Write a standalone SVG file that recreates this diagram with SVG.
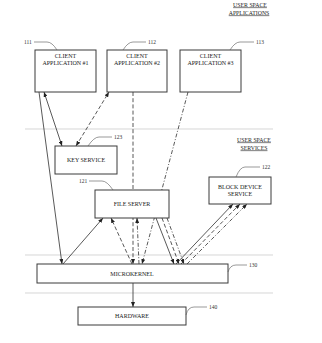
<svg xmlns="http://www.w3.org/2000/svg" width="322" height="343" viewBox="0 0 322 343">
<style>
.bg{fill:#fff}
.sep{stroke:#c4c4c4;stroke-width:0.7;fill:none}
.box{fill:#fff;stroke:#3a3a3a;stroke-width:1}
.t{font-family:"Liberation Serif","Times New Roman",serif;font-size:6px;fill:#222;text-anchor:middle}
.n{font-family:"Liberation Serif","Times New Roman",serif;font-size:5.5px;fill:#333}
.h{font-family:"Liberation Serif","Times New Roman",serif;font-size:5.8px;fill:#222;text-anchor:middle;text-decoration:underline}
.ld{stroke:#555;stroke-width:0.6;fill:none}
.c{stroke:#2e2e2e;stroke-width:0.8;fill:none}
.d{stroke-dasharray:4 2.2}
.dd{stroke-dasharray:4 1.8 1 1.8}
</style>
<defs>
<marker id="ah" markerUnits="userSpaceOnUse" markerWidth="5" markerHeight="4" refX="5" refY="2" orient="auto-start-reverse">
<path d="M0,0 L5,2 L0,4 z" fill="#222"/>
</marker>
</defs>
<rect class="bg" x="0" y="0" width="322" height="343"/>
<g id="separators">
<line class="sep" x1="25" y1="129" x2="273" y2="129"/>
<line class="sep" x1="25" y1="255" x2="273" y2="255"/>
<line class="sep" x1="25" y1="293" x2="273" y2="293"/>
</g>
<g id="region-labels">
<text class="h" x="250" y="6.5">USER SPACE</text>
<text class="h" x="249" y="14.5">APPLICATIONS</text>
<text class="h" x="254" y="141.5">USER SPACE</text>
<text class="h" x="254" y="149.5">SERVICES</text>
</g>
<g id="connectors">
<path class="c" d="M39,92 L62,264" marker-end="url(#ah)"/>
<path class="c" d="M63,264 L103,218" marker-end="url(#ah)"/>
<path class="c" d="M44,92 L62,146" marker-start="url(#ah)" marker-end="url(#ah)"/>
<path class="c d" d="M76,146 L109,92" marker-start="url(#ah)" marker-end="url(#ah)"/>
<path class="c d" d="M133,92 L133,264" marker-end="url(#ah)"/>
<path class="c d" d="M132,264 L111,218" marker-end="url(#ah)"/>
<path class="c dd" d="M188,92 L142,264" marker-end="url(#ah)"/>
<path class="c dd" d="M139,264 L137,218" marker-end="url(#ah)"/>
<path class="c" d="M156,218 L174,264" marker-end="url(#ah)"/>
<path class="c d" d="M162,218 L179,264" marker-end="url(#ah)"/>
<path class="c dd" d="M167,218 L184,264" marker-end="url(#ah)"/>
<path class="c" d="M176,264 L233,204" marker-end="url(#ah)"/>
<path class="c d" d="M181,264 L240,204" marker-end="url(#ah)"/>
<path class="c dd" d="M187,264 L247,204" marker-end="url(#ah)"/>
<path class="c" d="M133,283 L133,307" marker-end="url(#ah)"/>
</g>
<g id="client1">
<rect class="box" x="35" y="50" width="61" height="42"/>
<text class="t" x="65.5" y="58">CLIENT</text>
<text class="t" x="65.5" y="65">APPLICATION #1</text>
<path class="ld" d="M34,42 H47 Q52,42 57,50"/>
<text class="n" x="24" y="44">111</text>
</g>
<g id="client2">
<rect class="box" x="107" y="50" width="60" height="42"/>
<text class="t" x="137" y="58">CLIENT</text>
<text class="t" x="137" y="65">APPLICATION #2</text>
<path class="ld" d="M146,42 H133 Q128,42 123,50"/>
<text class="n" x="148" y="44">112</text>
</g>
<g id="client3">
<rect class="box" x="180" y="50" width="61" height="42"/>
<text class="t" x="210.5" y="58">CLIENT</text>
<text class="t" x="210.5" y="65">APPLICATION #3</text>
<path class="ld" d="M254,42 H240 Q235,42 230,50"/>
<text class="n" x="256" y="44">113</text>
</g>
<g id="key-service">
<rect class="box" x="55" y="146" width="62" height="28"/>
<text class="t" x="86" y="162">KEY SERVICE</text>
<path class="ld" d="M112,137 H99 Q94,137 88,146"/>
<text class="n" x="114" y="139">123</text>
</g>
<g id="file-server">
<rect class="box" x="95" y="190" width="74" height="28"/>
<text class="t" x="132" y="206">FILE SERVER</text>
<path class="ld" d="M89,181 H102 Q107,181 113,190"/>
<text class="n" x="79" y="183">121</text>
</g>
<g id="block-device-service">
<rect class="box" x="209" y="177" width="62" height="27"/>
<text class="t" x="240" y="189">BLOCK DEVICE</text>
<text class="t" x="240" y="196">SERVICE</text>
<path class="ld" d="M260,167 H245 Q240,167 236,177"/>
<text class="n" x="262" y="169">122</text>
</g>
<g id="microkernel">
<rect class="box" x="37" y="264" width="191" height="19"/>
<text class="t" x="132" y="276">MICROKERNEL</text>
<path class="ld" d="M228,272 Q230,265 236,265 H247"/>
<text class="n" x="249" y="267">130</text>
</g>
<g id="hardware">
<rect class="box" x="78" y="307" width="108" height="18"/>
<text class="t" x="132" y="318">HARDWARE</text>
<path class="ld" d="M186,315 Q188,307 194,307 H207"/>
<text class="n" x="209" y="309">140</text>
</g>
</svg>
